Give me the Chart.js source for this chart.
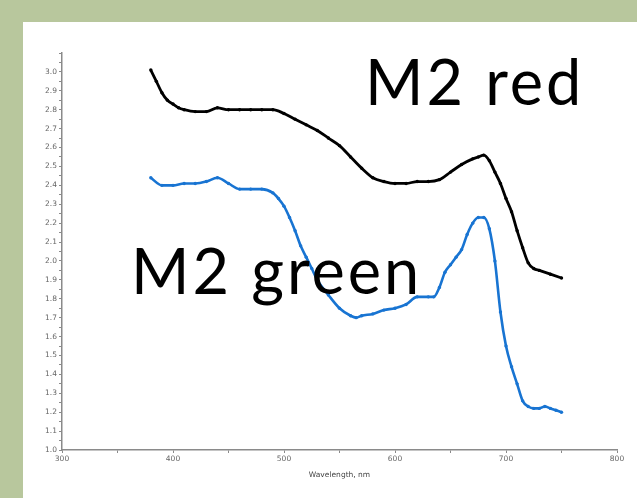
<!DOCTYPE html>
<html>
<head>
<meta charset="utf-8">
<script src="https://cdn.jsdelivr.net/npm/chart.js@4.4.0/dist/chart.umd.min.js"></script>
<style>
  html, body { margin: 0; padding: 0; }
  body { width: 637px; height: 498px; background: #b8c79d; position: relative; overflow: hidden; }
  #panel { position: absolute; left: 23px; top: 22px; width: 614px; height: 476px; background: #fff; }
  #myChart { position: absolute; left: 0; top: 0; }
  .big { position: absolute; font-family: Lato, sans-serif; font-size: 63px; letter-spacing: 3px; color: #000; line-height: 1; white-space: nowrap; }
</style>
</head>
<body>
<div id="panel"></div>
<canvas id="myChart" width="637" height="498"></canvas>
<div class="big" style="left:365px; top:49px;">M2 red</div>
<div class="big" style="left:131px; top:238px;">M2 green</div>
<script>
// wavelength (nm) and absorbance for the two samples
const redWl = [380, 385, 390, 395, 400, 405, 410, 420, 430, 440, 450, 460, 470, 480, 490, 500,
    510, 520, 530, 540, 550, 560, 570, 580, 590, 600, 610, 620, 630, 640, 650, 660, 670,
    675, 680, 685, 690, 695, 700, 705, 710, 715, 720, 725, 730, 740, 750];
const redAbs = [3.01, 2.95, 2.89, 2.85, 2.83, 2.81, 2.80, 2.79, 2.79, 2.81, 2.80, 2.80, 2.80, 2.80, 2.80, 2.78,
    2.75, 2.72, 2.69, 2.65, 2.61, 2.55, 2.49, 2.44, 2.42, 2.41, 2.41, 2.42, 2.42, 2.43, 2.47, 2.51, 2.54,
    2.55, 2.56, 2.53, 2.47, 2.41, 2.33, 2.26, 2.16, 2.07, 1.99, 1.96, 1.95, 1.93, 1.91];

const greenWl = [380, 390, 400, 410, 420, 430, 440, 450, 460, 470, 480, 490, 495, 500, 505,
    510, 515, 520, 525, 530, 540, 550, 560, 565, 570, 580, 590, 600, 610, 620, 630, 635,
    640, 645, 650, 655, 660, 665, 670, 675, 680, 685, 690, 695, 700, 705, 710, 715, 720,
    725, 730, 735, 740, 745, 750];
const greenAbs = [2.44, 2.40, 2.40, 2.41, 2.41, 2.42, 2.44, 2.41, 2.38, 2.38, 2.38, 2.36, 2.33, 2.29, 2.23,
    2.16, 2.08, 2.02, 1.96, 1.90, 1.82, 1.75, 1.71, 1.70, 1.71, 1.72, 1.74, 1.75, 1.77, 1.81, 1.81, 1.81,
    1.86, 1.94, 1.98, 2.02, 2.06, 2.14, 2.20, 2.23, 2.23, 2.17, 2.00, 1.73, 1.55, 1.44, 1.35, 1.26, 1.23,
    1.22, 1.22, 1.23, 1.22, 1.21, 1.20];

const xMin = 300, xMax = 800;
const yMin = 1.0, yMax = 3.1;

const toPts = (xs, ys) => xs.map((x, i) => ({ x: x, y: ys[i] }));

const tickFont = { family: "DejaVu Sans", size: 7.5 };
const axisGrey = "#8a8a8a";

new Chart("myChart", {
    type: "line",
    data: {
        datasets: [
            {
                data: toPts(redWl, redAbs), // M2 red
                borderColor: "#000000",
                backgroundColor: "#000000",
                borderWidth: 2.8,
                pointRadius: 1.7,
                pointBorderWidth: 0,
                cubicInterpolationMode: "monotone",
                fill: false,
            },
            {
                data: toPts(greenWl, greenAbs), // M2 green
                borderColor: "#1874d2",
                backgroundColor: "#1874d2",
                borderWidth: 2.6,
                pointRadius: 1.7,
                pointBorderWidth: 0,
                cubicInterpolationMode: "monotone",
                fill: false,
            },
        ],
    },
    options: {
        responsive: false,
        animation: false,
        layout: { padding: { left: 22, right: 20, top: 53, bottom: 18 } },
        plugins: { legend: { display: false }, tooltip: { enabled: false } },
        scales: {
            x: {
                type: "linear",
                min: xMin,
                max: xMax,
                border: { color: axisGrey, width: 1.5 },
                grid: { drawOnChartArea: false, color: axisGrey, tickLength: 3 },
                ticks: {
                    stepSize: 50,
                    autoSkip: false,
                    maxRotation: 0,
                    color: "#666",
                    font: tickFont,
                    padding: 2,
                    callback: v => (v % 100 === 0 ? v : ""),
                },
                title: { display: true, text: "Wavelength, nm", color: "#444", font: tickFont, padding: { top: 2, bottom: 0 } },
                afterFit: s => { s.height = 30; },
            },
            y: {
                type: "linear",
                min: yMin,
                max: yMax,
                border: { color: axisGrey, width: 1.5 },
                grid: { drawOnChartArea: false, color: axisGrey, tickLength: 3 },
                ticks: {
                    stepSize: 0.05,
                    autoSkip: false,
                    color: "#666",
                    font: tickFont,
                    padding: 2,
                    callback: v => {
                        const r = Math.round(v * 100);
                        if (r % 10 !== 0 || r > 300) return "";
                        return (r / 100).toFixed(1);
                    },
                },
                afterFit: s => { s.width = 40; },
            },
        },
    },
});
</script>
</body>
</html>
